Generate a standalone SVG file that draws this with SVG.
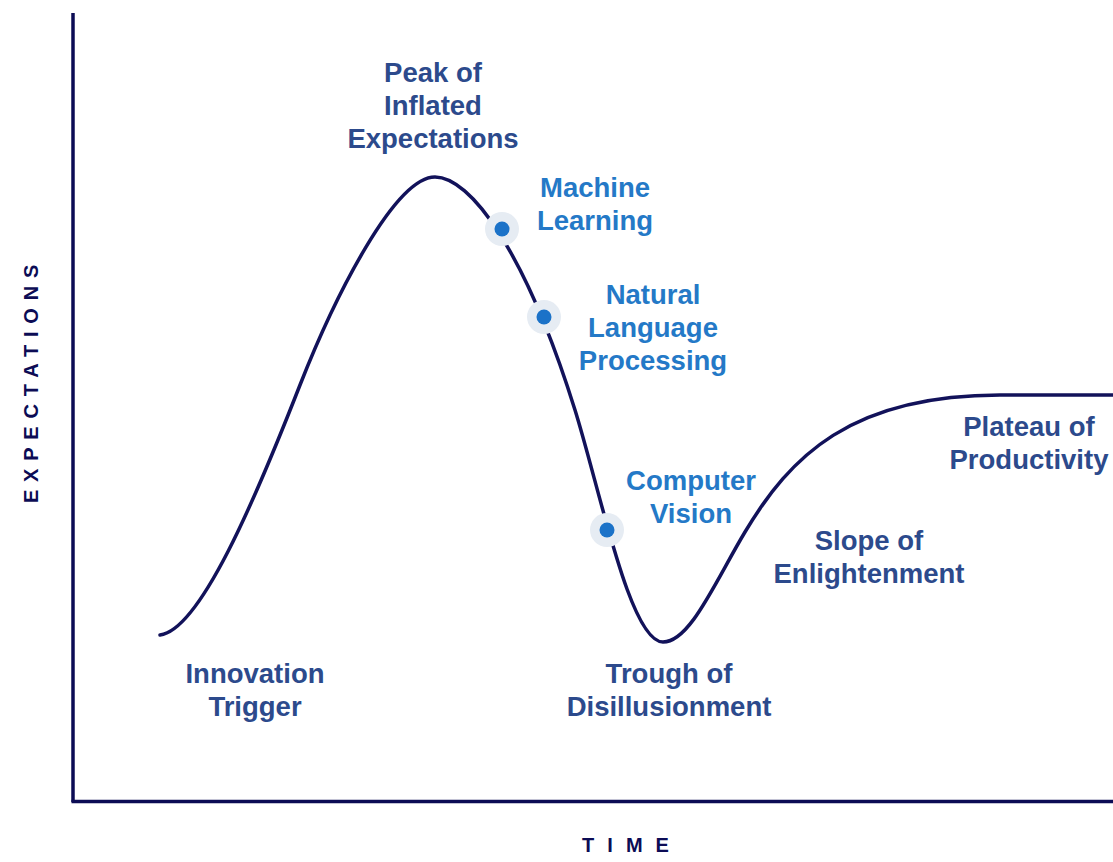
<svg xmlns="http://www.w3.org/2000/svg" width="1113" height="862" viewBox="0 0 1113 862">
  <style>
    .axis { stroke: #0c0c55; stroke-width: 3.5; fill: none; }
    .curve { stroke: #12125a; stroke-width: 3.5; fill: none; stroke-linecap: round; }
    .phase { font-family: "Liberation Sans", Arial, sans-serif; font-weight: bold; font-size: 27.5px; fill: #2c4a8c; text-anchor: middle; }
    .tech { font-family: "Liberation Sans", Arial, sans-serif; font-weight: bold; font-size: 27.5px; fill: #2479c7; text-anchor: middle; }
    .axis-title { font-family: "Liberation Sans", Arial, sans-serif; font-weight: bold; font-size: 20px; fill: #0c0c55; text-anchor: middle; }
    .halo { fill: #e6ecf3; }
    .dot { fill: #1b72c8; }
  </style>
  <rect width="1113" height="862" fill="#ffffff"/>

  <!-- axes -->
  <g id="axes">
    <line class="axis" x1="73" y1="13" x2="73" y2="802"/>
    <line class="axis" x1="71.5" y1="801.5" x2="1113" y2="801.5"/>
    <text class="axis-title" x="0" y="0" letter-spacing="7.8" transform="translate(38,380) rotate(-90)">EXPECTATIONS</text>
    <text class="axis-title" x="632" y="852" letter-spacing="13">TIME</text>
  </g>

  <!-- hype curve -->
  <g id="connectors">
    <path class="curve" d="M160,635 C200,630 255,500 300,385 C335,296 395,177 435,177 C470,177 525,250 575,410 C600,490 630,642 663,642 C690,642 715,582 745,532 C790,457 850,395 1000,395 L1113,395"/>
  </g>

  <!-- phase labels -->
  <g id="innovation-trigger">
    <text class="phase" x="255" y="683">Innovation</text>
    <text class="phase" x="255" y="716">Trigger</text>
  </g>
  <g id="peak">
    <text class="phase" x="433" y="82">Peak of</text>
    <text class="phase" x="433" y="115">Inflated</text>
    <text class="phase" x="433" y="148">Expectations</text>
  </g>
  <g id="trough">
    <text class="phase" x="669" y="683">Trough of</text>
    <text class="phase" x="669" y="716">Disillusionment</text>
  </g>
  <g id="slope">
    <text class="phase" x="869" y="550">Slope of</text>
    <text class="phase" x="869" y="583">Enlightenment</text>
  </g>
  <g id="plateau">
    <text class="phase" x="1029" y="436">Plateau of</text>
    <text class="phase" x="1029" y="469">Productivity</text>
  </g>

  <!-- technologies on the curve -->
  <g id="machine-learning">
    <circle class="halo" cx="502" cy="229" r="17"/>
    <circle class="dot" cx="502" cy="229" r="7.5"/>
    <text class="tech" x="595" y="197">Machine</text>
    <text class="tech" x="595" y="230">Learning</text>
  </g>
  <g id="nlp">
    <circle class="halo" cx="544" cy="317" r="17"/>
    <circle class="dot" cx="544" cy="317" r="7.5"/>
    <text class="tech" x="653" y="304">Natural</text>
    <text class="tech" x="653" y="337">Language</text>
    <text class="tech" x="653" y="370">Processing</text>
  </g>
  <g id="computer-vision">
    <circle class="halo" cx="607" cy="530" r="17"/>
    <circle class="dot" cx="607" cy="530" r="7.5"/>
    <text class="tech" x="691" y="490">Computer</text>
    <text class="tech" x="691" y="523">Vision</text>
  </g>
</svg>
